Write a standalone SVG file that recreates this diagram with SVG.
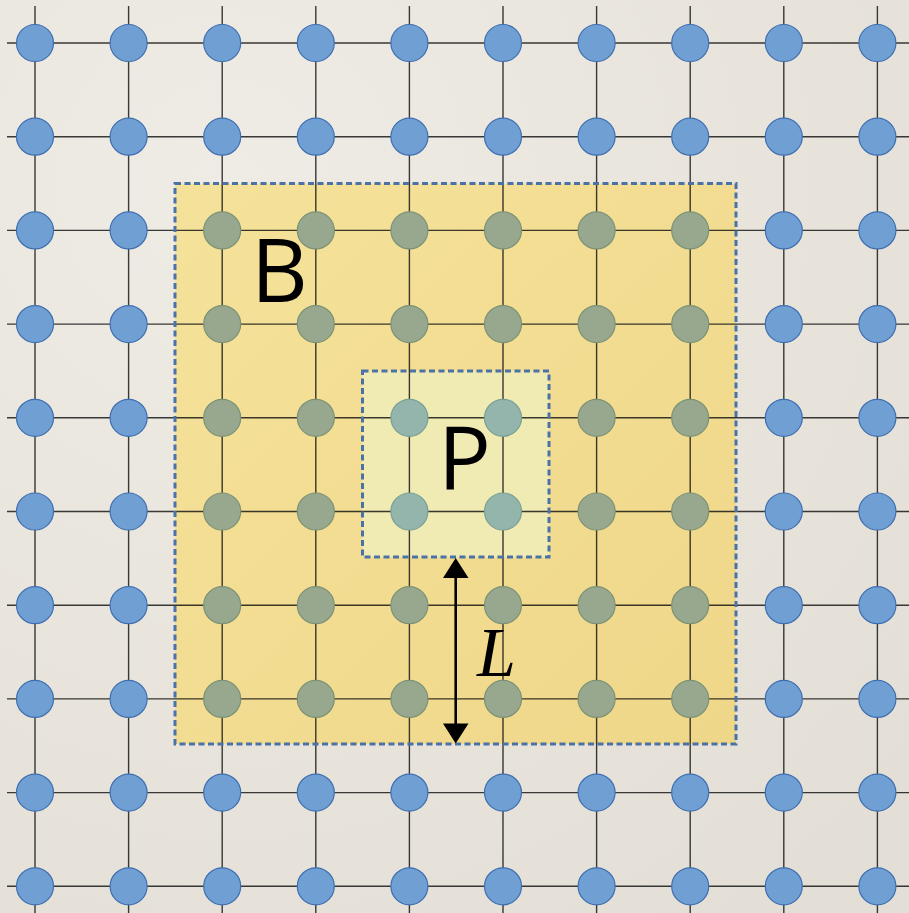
<svg xmlns="http://www.w3.org/2000/svg" width="909" height="913" viewBox="0 0 909 913">
<style>
.ln{stroke:#111;stroke-width:1.4;stroke-opacity:0.82;fill:none}
.n{fill:#709fd3;stroke:#3f6fb0;stroke-width:1.2}
.nb{fill:#97a88f;stroke:#7c9275;stroke-width:1.2}
.np{fill:#93b5ab;stroke:#7aa095;stroke-width:1.2}
.dash{fill:none;stroke:#4a72a6;stroke-width:3;stroke-dasharray:6 3.5}
.lbl{font-family:"Open Sans","Liberation Sans",sans-serif;font-size:88px;fill:#000}
</style>
<defs>
<radialGradient id="paper" cx="0.25" cy="0.2" r="1">
<stop offset="0" stop-color="#efece5"/>
<stop offset="0.6" stop-color="#e8e4dc"/>
<stop offset="1" stop-color="#e3dfd6"/>
</radialGradient>
<linearGradient id="byel" x1="0" y1="0" x2="1" y2="1">
<stop offset="0" stop-color="#f5e29a"/>
<stop offset="1" stop-color="#efd789"/>
</linearGradient>
</defs>
<rect width="909" height="913" fill="url(#paper)"/>
<g id="regionB-fill"><rect x="175" y="183.5" width="561" height="560.5" fill="url(#byel)"/></g>
<g id="regionP-fill"><rect x="362.5" y="371" width="186.5" height="186" fill="#f0eab3"/></g>
<g id="connectors">
<path class="ln" d="M7,43H909M7,136.7H909M7,230.4H909M7,324.1H909M7,417.8H909M7,511.5H909M7,605.2H909M7,698.9H909M7,792.6H909M7,886.3H909"/>
<path class="ln" d="M35,6V913M128.6,6V913M222.2,6V913M315.8,6V913M409.4,6V913M503,6V913M596.6,6V913M690.2,6V913M783.8,6V913M877.4,6V913"/>
</g>
<g id="nodes">
<g id="n0-0"><circle class="n" cx="35" cy="43" r="18.5"/></g>
<g id="n1-0"><circle class="n" cx="128.6" cy="43" r="18.5"/></g>
<g id="n2-0"><circle class="n" cx="222.2" cy="43" r="18.5"/></g>
<g id="n3-0"><circle class="n" cx="315.8" cy="43" r="18.5"/></g>
<g id="n4-0"><circle class="n" cx="409.4" cy="43" r="18.5"/></g>
<g id="n5-0"><circle class="n" cx="503" cy="43" r="18.5"/></g>
<g id="n6-0"><circle class="n" cx="596.6" cy="43" r="18.5"/></g>
<g id="n7-0"><circle class="n" cx="690.2" cy="43" r="18.5"/></g>
<g id="n8-0"><circle class="n" cx="783.8" cy="43" r="18.5"/></g>
<g id="n9-0"><circle class="n" cx="877.4" cy="43" r="18.5"/></g>
<g id="n0-1"><circle class="n" cx="35" cy="136.7" r="18.5"/></g>
<g id="n1-1"><circle class="n" cx="128.6" cy="136.7" r="18.5"/></g>
<g id="n2-1"><circle class="n" cx="222.2" cy="136.7" r="18.5"/></g>
<g id="n3-1"><circle class="n" cx="315.8" cy="136.7" r="18.5"/></g>
<g id="n4-1"><circle class="n" cx="409.4" cy="136.7" r="18.5"/></g>
<g id="n5-1"><circle class="n" cx="503" cy="136.7" r="18.5"/></g>
<g id="n6-1"><circle class="n" cx="596.6" cy="136.7" r="18.5"/></g>
<g id="n7-1"><circle class="n" cx="690.2" cy="136.7" r="18.5"/></g>
<g id="n8-1"><circle class="n" cx="783.8" cy="136.7" r="18.5"/></g>
<g id="n9-1"><circle class="n" cx="877.4" cy="136.7" r="18.5"/></g>
<g id="n0-2"><circle class="n" cx="35" cy="230.4" r="18.5"/></g>
<g id="n1-2"><circle class="n" cx="128.6" cy="230.4" r="18.5"/></g>
<g id="n2-2"><circle class="nb" cx="222.2" cy="230.4" r="18.5"/></g>
<g id="n3-2"><circle class="nb" cx="315.8" cy="230.4" r="18.5"/></g>
<g id="n4-2"><circle class="nb" cx="409.4" cy="230.4" r="18.5"/></g>
<g id="n5-2"><circle class="nb" cx="503" cy="230.4" r="18.5"/></g>
<g id="n6-2"><circle class="nb" cx="596.6" cy="230.4" r="18.5"/></g>
<g id="n7-2"><circle class="nb" cx="690.2" cy="230.4" r="18.5"/></g>
<g id="n8-2"><circle class="n" cx="783.8" cy="230.4" r="18.5"/></g>
<g id="n9-2"><circle class="n" cx="877.4" cy="230.4" r="18.5"/></g>
<g id="n0-3"><circle class="n" cx="35" cy="324.1" r="18.5"/></g>
<g id="n1-3"><circle class="n" cx="128.6" cy="324.1" r="18.5"/></g>
<g id="n2-3"><circle class="nb" cx="222.2" cy="324.1" r="18.5"/></g>
<g id="n3-3"><circle class="nb" cx="315.8" cy="324.1" r="18.5"/></g>
<g id="n4-3"><circle class="nb" cx="409.4" cy="324.1" r="18.5"/></g>
<g id="n5-3"><circle class="nb" cx="503" cy="324.1" r="18.5"/></g>
<g id="n6-3"><circle class="nb" cx="596.6" cy="324.1" r="18.5"/></g>
<g id="n7-3"><circle class="nb" cx="690.2" cy="324.1" r="18.5"/></g>
<g id="n8-3"><circle class="n" cx="783.8" cy="324.1" r="18.5"/></g>
<g id="n9-3"><circle class="n" cx="877.4" cy="324.1" r="18.5"/></g>
<g id="n0-4"><circle class="n" cx="35" cy="417.8" r="18.5"/></g>
<g id="n1-4"><circle class="n" cx="128.6" cy="417.8" r="18.5"/></g>
<g id="n2-4"><circle class="nb" cx="222.2" cy="417.8" r="18.5"/></g>
<g id="n3-4"><circle class="nb" cx="315.8" cy="417.8" r="18.5"/></g>
<g id="n4-4"><circle class="np" cx="409.4" cy="417.8" r="18.5"/></g>
<g id="n5-4"><circle class="np" cx="503" cy="417.8" r="18.5"/></g>
<g id="n6-4"><circle class="nb" cx="596.6" cy="417.8" r="18.5"/></g>
<g id="n7-4"><circle class="nb" cx="690.2" cy="417.8" r="18.5"/></g>
<g id="n8-4"><circle class="n" cx="783.8" cy="417.8" r="18.5"/></g>
<g id="n9-4"><circle class="n" cx="877.4" cy="417.8" r="18.5"/></g>
<g id="n0-5"><circle class="n" cx="35" cy="511.5" r="18.5"/></g>
<g id="n1-5"><circle class="n" cx="128.6" cy="511.5" r="18.5"/></g>
<g id="n2-5"><circle class="nb" cx="222.2" cy="511.5" r="18.5"/></g>
<g id="n3-5"><circle class="nb" cx="315.8" cy="511.5" r="18.5"/></g>
<g id="n4-5"><circle class="np" cx="409.4" cy="511.5" r="18.5"/></g>
<g id="n5-5"><circle class="np" cx="503" cy="511.5" r="18.5"/></g>
<g id="n6-5"><circle class="nb" cx="596.6" cy="511.5" r="18.5"/></g>
<g id="n7-5"><circle class="nb" cx="690.2" cy="511.5" r="18.5"/></g>
<g id="n8-5"><circle class="n" cx="783.8" cy="511.5" r="18.5"/></g>
<g id="n9-5"><circle class="n" cx="877.4" cy="511.5" r="18.5"/></g>
<g id="n0-6"><circle class="n" cx="35" cy="605.2" r="18.5"/></g>
<g id="n1-6"><circle class="n" cx="128.6" cy="605.2" r="18.5"/></g>
<g id="n2-6"><circle class="nb" cx="222.2" cy="605.2" r="18.5"/></g>
<g id="n3-6"><circle class="nb" cx="315.8" cy="605.2" r="18.5"/></g>
<g id="n4-6"><circle class="nb" cx="409.4" cy="605.2" r="18.5"/></g>
<g id="n5-6"><circle class="nb" cx="503" cy="605.2" r="18.5"/></g>
<g id="n6-6"><circle class="nb" cx="596.6" cy="605.2" r="18.5"/></g>
<g id="n7-6"><circle class="nb" cx="690.2" cy="605.2" r="18.5"/></g>
<g id="n8-6"><circle class="n" cx="783.8" cy="605.2" r="18.5"/></g>
<g id="n9-6"><circle class="n" cx="877.4" cy="605.2" r="18.5"/></g>
<g id="n0-7"><circle class="n" cx="35" cy="698.9" r="18.5"/></g>
<g id="n1-7"><circle class="n" cx="128.6" cy="698.9" r="18.5"/></g>
<g id="n2-7"><circle class="nb" cx="222.2" cy="698.9" r="18.5"/></g>
<g id="n3-7"><circle class="nb" cx="315.8" cy="698.9" r="18.5"/></g>
<g id="n4-7"><circle class="nb" cx="409.4" cy="698.9" r="18.5"/></g>
<g id="n5-7"><circle class="nb" cx="503" cy="698.9" r="18.5"/></g>
<g id="n6-7"><circle class="nb" cx="596.6" cy="698.9" r="18.5"/></g>
<g id="n7-7"><circle class="nb" cx="690.2" cy="698.9" r="18.5"/></g>
<g id="n8-7"><circle class="n" cx="783.8" cy="698.9" r="18.5"/></g>
<g id="n9-7"><circle class="n" cx="877.4" cy="698.9" r="18.5"/></g>
<g id="n0-8"><circle class="n" cx="35" cy="792.6" r="18.5"/></g>
<g id="n1-8"><circle class="n" cx="128.6" cy="792.6" r="18.5"/></g>
<g id="n2-8"><circle class="n" cx="222.2" cy="792.6" r="18.5"/></g>
<g id="n3-8"><circle class="n" cx="315.8" cy="792.6" r="18.5"/></g>
<g id="n4-8"><circle class="n" cx="409.4" cy="792.6" r="18.5"/></g>
<g id="n5-8"><circle class="n" cx="503" cy="792.6" r="18.5"/></g>
<g id="n6-8"><circle class="n" cx="596.6" cy="792.6" r="18.5"/></g>
<g id="n7-8"><circle class="n" cx="690.2" cy="792.6" r="18.5"/></g>
<g id="n8-8"><circle class="n" cx="783.8" cy="792.6" r="18.5"/></g>
<g id="n9-8"><circle class="n" cx="877.4" cy="792.6" r="18.5"/></g>
<g id="n0-9"><circle class="n" cx="35" cy="886.3" r="18.5"/></g>
<g id="n1-9"><circle class="n" cx="128.6" cy="886.3" r="18.5"/></g>
<g id="n2-9"><circle class="n" cx="222.2" cy="886.3" r="18.5"/></g>
<g id="n3-9"><circle class="n" cx="315.8" cy="886.3" r="18.5"/></g>
<g id="n4-9"><circle class="n" cx="409.4" cy="886.3" r="18.5"/></g>
<g id="n5-9"><circle class="n" cx="503" cy="886.3" r="18.5"/></g>
<g id="n6-9"><circle class="n" cx="596.6" cy="886.3" r="18.5"/></g>
<g id="n7-9"><circle class="n" cx="690.2" cy="886.3" r="18.5"/></g>
<g id="n8-9"><circle class="n" cx="783.8" cy="886.3" r="18.5"/></g>
<g id="n9-9"><circle class="n" cx="877.4" cy="886.3" r="18.5"/></g>
</g>
<g id="regionB">
<rect class="dash" x="175" y="183.5" width="561" height="560.5"/>
<text class="lbl" x="251" y="302">B</text>
</g>
<g id="regionP">
<rect class="dash" x="362.5" y="371" width="186.5" height="186"/>
<text class="lbl" x="438" y="490">P</text>
</g>
<g id="dimension-L">
<line x1="455.7" y1="570" x2="455.7" y2="731" stroke="#000" stroke-width="2.6"/>
<path d="M455.7,558 L443,578 L468.5,578 Z M455.7,743.5 L443,723.5 L468.5,723.5 Z" fill="#000"/>
<text x="477" y="676" font-family="'Liberation Serif','Times New Roman',serif" font-style="italic" font-size="70" fill="#000">L</text>
</g>
</svg>
